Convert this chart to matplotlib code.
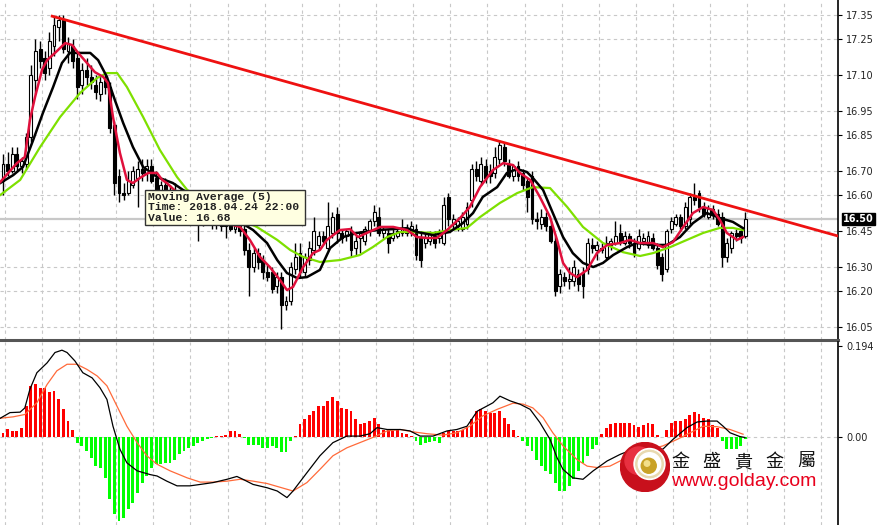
import numpy as np
import matplotlib.pyplot as plt
from matplotlib.patches import Rectangle, Circle

# ---------------- DATA ----------------
opens = [16.66, 16.73, 16.70, 16.77, 16.72, 16.73, 16.84, 17.08, 17.21, 17.17,
         17.13, 17.22, 17.30, 17.33, 17.20, 17.22, 17.17, 17.06, 17.12, 17.09,
         17.06, 17.02, 17.08, 17.05, 16.89, 16.68, 16.61, 16.61, 16.64, 16.67,
         16.71, 16.69, 16.72, 16.67, 16.62, 16.64, 16.60, 16.62, 16.57, 16.58,
         16.54, 16.56, 16.51, 16.50, 16.53, 16.50, 16.48, 16.49, 16.47, 16.48,
         16.46, 16.47, 16.46, 16.37, 16.30, 16.36, 16.33, 16.28, 16.28, 16.22,
         16.26, 16.14, 16.16, 16.29, 16.36, 16.28, 16.33, 16.37, 16.39, 16.43,
         16.38, 16.44, 16.52, 16.44, 16.43, 16.45, 16.38, 16.42, 16.41, 16.45,
         16.49, 16.51, 16.44, 16.44, 16.42, 16.43, 16.44, 16.46, 16.44, 16.46,
         16.42, 16.40, 16.41, 16.43, 16.42, 16.40, 16.59, 16.48, 16.47, 16.46,
         16.48, 16.58, 16.71, 16.66, 16.72, 16.70, 16.69, 16.75, 16.80, 16.73,
         16.68, 16.72, 16.69, 16.66, 16.68, 16.50, 16.48, 16.51, 16.47, 16.41,
         16.22, 16.26, 16.24, 16.24, 16.27, 16.28, 16.29, 16.39, 16.37, 16.38,
         16.34, 16.39, 16.40, 16.44, 16.40, 16.43, 16.40, 16.38, 16.41, 16.39,
         16.42, 16.38, 16.34, 16.29, 16.46, 16.48, 16.51, 16.47, 16.50, 16.59,
         16.61, 16.55, 16.51, 16.54, 16.52, 16.51, 16.34, 16.38, 16.44, 16.45,
         16.43]
highs = [16.77, 16.78, 16.80, 16.80, 16.76, 16.86, 17.14, 17.25, 17.24, 17.20,
         17.28, 17.34, 17.35, 17.35, 17.26, 17.25, 17.19, 17.15, 17.17, 17.14,
         17.10, 17.10, 17.10, 17.07, 16.91, 16.71, 16.65, 16.70, 16.72, 16.74,
         16.75, 16.75, 16.75, 16.70, 16.66, 16.67, 16.64, 16.65, 16.61, 16.60,
         16.58, 16.58, 16.55, 16.55, 16.56, 16.53, 16.51, 16.51, 16.50, 16.50,
         16.49, 16.49, 16.48, 16.40, 16.38, 16.38, 16.35, 16.31, 16.30, 16.28,
         16.28, 16.18, 16.32, 16.40, 16.40, 16.36, 16.41, 16.51, 16.45, 16.45,
         16.57, 16.53, 16.55, 16.46, 16.46, 16.47, 16.43, 16.45, 16.47, 16.50,
         16.56, 16.55, 16.47, 16.46, 16.46, 16.46, 16.50, 16.48, 16.49, 16.48,
         16.45, 16.44, 16.45, 16.45, 16.46, 16.59, 16.61, 16.52, 16.51, 16.53,
         16.57, 16.73, 16.74, 16.76, 16.75, 16.73, 16.80, 16.83, 16.82, 16.75,
         16.73, 16.74, 16.71, 16.67, 16.70, 16.53, 16.54, 16.53, 16.49, 16.43,
         16.29, 16.28, 16.30, 16.33, 16.29, 16.30, 16.42, 16.42, 16.41, 16.40,
         16.43, 16.42, 16.49, 16.48, 16.45, 16.44, 16.42, 16.46, 16.44, 16.45,
         16.44, 16.40, 16.36, 16.46, 16.51, 16.52, 16.52, 16.57, 16.61, 16.65,
         16.62, 16.57, 16.56, 16.56, 16.54, 16.53, 16.42, 16.45, 16.46, 16.46,
         16.53]
lows = [16.60, 16.68, 16.69, 16.70, 16.69, 16.71, 16.82, 17.02, 17.13, 17.08,
        17.10, 17.18, 17.24, 17.19, 17.15, 17.13, 17.00, 17.02, 17.06, 17.04,
        17.00, 16.99, 17.02, 16.86, 16.60, 16.57, 16.58, 16.60, 16.63, 16.55,
        16.66, 16.66, 16.65, 16.60, 16.58, 16.59, 16.56, 16.56, 16.53, 16.52,
        16.50, 16.49, 16.41, 16.47, 16.48, 16.46, 16.46, 16.45, 16.42, 16.45,
        16.44, 16.43, 16.35, 16.18, 16.28, 16.29, 16.25, 16.24, 16.19, 16.19,
        16.04, 16.12, 16.14, 16.27, 16.26, 16.26, 16.31, 16.35, 16.37, 16.40,
        16.37, 16.42, 16.40, 16.40, 16.41, 16.34, 16.35, 16.36, 16.39, 16.43,
        16.47, 16.43, 16.42, 16.36, 16.41, 16.42, 16.43, 16.43, 16.43, 16.33,
        16.30, 16.38, 16.39, 16.38, 16.40, 16.39, 16.47, 16.46, 16.45, 16.45,
        16.46, 16.55, 16.66, 16.64, 16.65, 16.65, 16.67, 16.73, 16.72, 16.67,
        16.66, 16.66, 16.62, 16.53, 16.48, 16.46, 16.46, 16.45, 16.40, 16.18,
        16.19, 16.22, 16.21, 16.22, 16.20, 16.17, 16.27, 16.36, 16.33, 16.36,
        16.33, 16.37, 16.39, 16.39, 16.39, 16.38, 16.34, 16.37, 16.39, 16.38,
        16.37, 16.29, 16.24, 16.28, 16.44, 16.47, 16.46, 16.46, 16.48, 16.56,
        16.53, 16.51, 16.50, 16.50, 16.47, 16.30, 16.32, 16.36, 16.41, 16.40,
        16.42]
closes = [16.73, 16.70, 16.77, 16.72, 16.74, 16.84, 17.10, 17.20, 17.16, 17.11,
          17.24, 17.31, 17.33, 17.21, 17.23, 17.16, 17.05, 17.12, 17.09, 17.07,
          17.03, 17.07, 17.05, 16.88, 16.65, 16.61, 16.60, 16.66, 16.70, 16.71,
          16.69, 16.72, 16.66, 16.62, 16.64, 16.60, 16.62, 16.57, 16.58, 16.54,
          16.56, 16.51, 16.50, 16.53, 16.50, 16.48, 16.49, 16.47, 16.48, 16.46,
          16.47, 16.45, 16.37, 16.30, 16.36, 16.32, 16.28, 16.26, 16.21, 16.26,
          16.14, 16.16, 16.30, 16.34, 16.28, 16.34, 16.38, 16.45, 16.43, 16.41,
          16.47, 16.51, 16.44, 16.42, 16.45, 16.37, 16.41, 16.44, 16.46, 16.49,
          16.53, 16.44, 16.46, 16.40, 16.44, 16.45, 16.46, 16.44, 16.47, 16.35,
          16.33, 16.42, 16.44, 16.40, 16.44, 16.56, 16.50, 16.50, 16.49, 16.51,
          16.55, 16.71, 16.68, 16.73, 16.67, 16.68, 16.76, 16.81, 16.74, 16.68,
          16.72, 16.68, 16.64, 16.59, 16.50, 16.49, 16.51, 16.47, 16.41, 16.20,
          16.27, 16.24, 16.25, 16.30, 16.23, 16.22, 16.40, 16.38, 16.39, 16.37,
          16.40, 16.41, 16.43, 16.41, 16.43, 16.40, 16.36, 16.43, 16.42, 16.43,
          16.38, 16.31, 16.27, 16.45, 16.49, 16.51, 16.47, 16.55, 16.59, 16.58,
          16.55, 16.52, 16.54, 16.52, 16.48, 16.34, 16.40, 16.44, 16.43, 16.42,
          16.50]

# moving averages (bar index, price)
ma5_x = [-0.6, 3.0, 4.7, 5.8, 6.9, 8.4, 9.5, 11.2, 13.4, 14.9, 16.2, 18.1, 19.8, 21.6,
         22.6, 23.7, 25.2, 26.7, 28.0, 29.5, 31.3, 33.2, 34.3, 35.3, 39.2, 43.5, 47.2,
         51.1, 53.2, 55.4, 57.5, 59.7, 61.2, 62.5, 64.7, 66.8, 68.3, 69.8, 72.6, 74.8,
         76.5, 78.4, 81.3, 84.1, 87.1, 89.2, 91.4, 93.5, 95.7, 98.5, 100.6, 102.8,
         105.6, 107.8, 109.9, 111.4, 113.6, 115.7, 117.9, 119.4, 120.7, 122.2, 123.7,
         125.9, 128.0, 130.2, 133.0, 135.1, 137.3, 140.1, 142.2, 144.4, 146.6, 148.7,
         150.9, 153.0, 154.5, 156.0, 158.2, 159.5]
ma5_y = [16.654, 16.733, 16.758, 16.913, 17.008, 17.121, 17.162, 17.192, 17.233, 17.225,
         17.192, 17.150, 17.112, 17.092, 17.067, 16.925, 16.775, 16.663, 16.650, 16.671,
         16.692, 16.692, 16.663, 16.650, 16.580, 16.520, 16.488, 16.467, 16.413, 16.342,
         16.300, 16.246, 16.204, 16.217, 16.300, 16.358, 16.371, 16.413, 16.454, 16.458,
         16.425, 16.442, 16.467, 16.467, 16.454, 16.425, 16.421, 16.421, 16.454, 16.504,
         16.550, 16.633, 16.704, 16.733, 16.725, 16.692, 16.663, 16.592, 16.508, 16.413,
         16.317, 16.275, 16.258, 16.288, 16.358, 16.392, 16.400, 16.413, 16.400, 16.400,
         16.383, 16.404, 16.467, 16.525, 16.550, 16.538, 16.496, 16.442, 16.413, 16.425]

ma10_x = [-0.6, 2.2, 4.3, 6.5, 8.6, 10.8, 12.7, 14.4, 16.6, 18.8, 20.5, 22.4, 24.1, 25.9,
          28.0, 30.2, 33.2, 36.6, 38.8, 44.6, 50.4, 53.9, 56.9, 59.1, 61.2, 63.4, 65.5,
          68.3, 70.5, 73.3, 76.3, 80.6, 84.1, 87.1, 89.2, 92.7, 96.3, 99.1, 101.3, 103.4,
          106.5, 108.6, 110.8, 112.9, 114.2, 116.4, 118.5, 120.7, 122.8, 125.0, 127.2,
          129.3, 131.5, 134.5, 136.6, 140.1, 143.1, 145.9, 148.7, 151.7, 154.5, 157.3, 159.5]
ma10_y = [16.650, 16.683, 16.717, 16.829, 16.942, 17.050, 17.150, 17.192, 17.192, 17.192,
          17.162, 17.092, 16.996, 16.900, 16.800, 16.717, 16.675, 16.650, 16.621, 16.558,
          16.496, 16.454, 16.400, 16.329, 16.275, 16.254, 16.258, 16.288, 16.379, 16.425,
          16.442, 16.454, 16.458, 16.462, 16.446, 16.433, 16.446, 16.483, 16.525, 16.592,
          16.633, 16.692, 16.708, 16.696, 16.671, 16.621, 16.525, 16.425, 16.358, 16.317,
          16.300, 16.317, 16.350, 16.383, 16.400, 16.392, 16.392, 16.425, 16.483, 16.525,
          16.504, 16.488, 16.462]

ma20_x = [-0.6, 3.7, 8.0, 12.3, 16.6, 20.3, 22.4, 24.6, 26.7, 30.2, 33.8, 37.5, 39.7,
          42.5, 48.9, 54.7, 59.1, 61.9, 64.7, 68.3, 72.6, 76.9, 79.7, 82.8, 85.6, 88.4,
          92.7, 96.3, 100.0, 102.8, 107.1, 110.8, 114.2, 117.9, 121.6, 125.0, 129.3,
          133.6, 137.3, 140.1, 143.8, 147.4, 150.9, 154.5, 157.3, 159.5]
ma20_y = [16.600, 16.663, 16.800, 16.925, 17.025, 17.088, 17.108, 17.108, 17.050, 16.925,
          16.788, 16.675, 16.621, 16.592, 16.517, 16.467, 16.413, 16.371, 16.342, 16.321,
          16.329, 16.350, 16.383, 16.425, 16.446, 16.446, 16.442, 16.454, 16.463, 16.508,
          16.567, 16.608, 16.633, 16.629, 16.550, 16.467, 16.400, 16.362, 16.346, 16.358,
          16.383, 16.413, 16.442, 16.463, 16.463, 16.454]

# trend line (start / end)
trend_x = [10.6, 180.0]
trend_y = [17.345, 16.429]

last_price = 16.50
price_ticks = [17.35, 17.25, 17.10, 16.95, 16.85, 16.70, 16.60, 16.45, 16.30, 16.20, 16.05]

# MACD
hist = [0.008, 0.018, 0.013, 0.013, 0.020, 0.066, 0.109, 0.112, 0.105, 0.105,
        0.096, 0.098, 0.080, 0.060, 0.034, 0.015, -0.012, -0.019, -0.030, -0.044,
        -0.062, -0.065, -0.087, -0.133, -0.165, -0.179, -0.172, -0.154, -0.140, -0.119,
        -0.097, -0.083, -0.065, -0.058, -0.058, -0.055, -0.055, -0.048, -0.037, -0.030,
        -0.023, -0.019, -0.013, -0.009, -0.005, -0.002, 0.002, 0.002, 0.004, 0.013,
        0.013, 0.006, -0.003, -0.016, -0.016, -0.018, -0.023, -0.023, -0.019, -0.023,
        -0.032, -0.032, -0.009, 0.002, 0.027, 0.038, 0.047, 0.055, 0.066, 0.066,
        0.077, 0.086, 0.077, 0.062, 0.059, 0.055, 0.038, 0.027, 0.030, 0.034,
        0.041, 0.027, 0.016, 0.016, 0.013, 0.016, 0.009, 0.006, 0.002, -0.009,
        -0.016, -0.012, -0.011, -0.009, -0.012, 0.009, 0.013, 0.013, 0.013, 0.016,
        0.022, 0.038, 0.055, 0.059, 0.055, 0.052, 0.052, 0.055, 0.041, 0.027,
        0.016, 0.002, -0.009, -0.019, -0.030, -0.048, -0.062, -0.072, -0.079, -0.097,
        -0.115, -0.115, -0.104, -0.090, -0.072, -0.055, -0.041, -0.026, -0.016, 0.006,
        0.020, 0.027, 0.030, 0.030, 0.030, 0.030, 0.025, 0.022, 0.025, 0.029,
        0.027, 0.004, -0.001, 0.016, 0.030, 0.034, 0.034, 0.038, 0.046, 0.053,
        0.050, 0.040, 0.038, 0.025, 0.020, -0.009, -0.026, -0.026, -0.026, -0.019,
        -0.005]

macd_x = [-0.6, 1.5, 3.7, 4.7, 5.8, 7.3, 9.5, 11.2, 12.7, 13.8, 15.5, 17.2, 19.2, 20.9,
          22.4, 23.7, 25.2, 26.7, 28.9, 31.7, 33.2, 35.3, 37.5, 40.3, 42.5, 45.3, 48.3,
          50.4, 51.7, 53.9, 56.9, 59.1, 61.2, 62.5, 65.5, 68.3, 71.1, 74.1, 76.9, 79.1,
          80.6, 82.8, 85.6, 87.7, 89.9, 92.7, 95.7, 97.8, 100.0, 102.2, 104.3, 105.6,
          107.1, 109.3, 111.4, 113.6, 115.7, 117.9, 119.4, 120.7, 122.8, 125.0, 127.2,
          130.2, 133.0, 135.8, 138.8, 140.9, 142.2, 144.4, 147.4, 149.6, 151.7, 153.9,
          155.2, 156.7, 158.8, 159.9]
macd_y = [0.040, 0.052, 0.053, 0.062, 0.102, 0.137, 0.158, 0.180, 0.185, 0.180,
          0.162, 0.137, 0.126, 0.105, 0.080, 0.023, -0.026, -0.055, -0.072, -0.080,
          -0.083, -0.094, -0.104, -0.104, -0.101, -0.097, -0.090, -0.084, -0.090, -0.101,
          -0.108, -0.115, -0.129, -0.115, -0.076, -0.040, -0.012, 0.002, 0.002, 0.007,
          0.020, 0.016, 0.016, 0.013, 0.002, 0.002, 0.013, 0.016, 0.023, 0.055,
          0.066, 0.073, 0.087, 0.077, 0.070, 0.059, 0.031, -0.005, -0.044, -0.069,
          -0.087, -0.090, -0.072, -0.051, -0.037, -0.026, -0.019, -0.023, -0.026, -0.005,
          0.020, 0.032, 0.034, 0.034, 0.023, 0.009, 0.001, -0.001]

signal_x = [-0.6, 2.2, 4.7, 7.3, 9.5, 11.6, 13.8, 15.9, 18.1, 20.3, 22.4, 24.6, 26.7,
            28.9, 31.0, 33.2, 36.0, 39.7, 42.5, 45.3, 48.3, 51.1, 53.9, 56.9, 59.7, 62.5,
            65.5, 68.3, 71.1, 74.1, 76.9, 79.7, 82.8, 85.6, 88.4, 91.4, 94.8, 97.8, 100.6,
            103.4, 106.5, 109.9, 112.1, 114.2, 116.4, 118.5, 120.7, 123.7, 125.9, 128.0,
            130.8, 133.6, 136.6, 139.4, 142.2, 145.3, 148.1, 150.9, 153.9, 156.7, 159.5]
signal_y = [0.040, 0.043, 0.048, 0.073, 0.112, 0.141, 0.155, 0.155, 0.144, 0.130,
            0.109, 0.065, 0.023, -0.012, -0.040, -0.058, -0.072, -0.087, -0.096, -0.096,
            -0.094, -0.090, -0.094, -0.099, -0.107, -0.115, -0.097, -0.069, -0.040, -0.023,
            -0.012, -0.001, 0.013, 0.016, 0.011, 0.007, 0.004, 0.009, 0.023, 0.045,
            0.059, 0.072, 0.070, 0.062, 0.041, 0.009, -0.019, -0.048, -0.062, -0.065,
            -0.062, -0.048, -0.037, -0.026, -0.019, -0.005, 0.009, 0.023, 0.022, 0.016,
            0.006]

brand_chars = ['金', '盛', '貴', '金', '屬']
brand_url = 'www.golday.com'

# ---------------- PLOT ----------------
W, H = 879, 525
fig = plt.figure(figsize=(W / 100, H / 100), dpi=100)
fig.patch.set_facecolor('white')

ax1 = fig.add_axes([0, 185 / H, 838 / W, 340 / H])
ax2 = fig.add_axes([0, 0, 838 / W, 183 / H])

idx = np.arange(len(closes))
o = np.array(opens); c = np.array(closes)
hi = np.array(highs); lo = np.array(lows)
up = c >= o

grid_kw = dict(color='#c8c8c8', linestyle=(0, (3, 3)), linewidth=0.8, zorder=0)
vgrid = np.arange(0.4, 181, 8)

# top panel: grid, candles, averages, trend line
for a in (ax1, ax2):
    for g in vgrid:
        a.axvline(g, **grid_kw)
for t in price_ticks:
    ax1.axhline(t, **grid_kw)
ax1.axhline(last_price, color='#c8c8c8', linewidth=1.6, zorder=1)

ax1.vlines(idx, lo, hi, color='black', linewidth=1.0, zorder=3)
body = np.maximum(np.abs(c - o), 0.004)
ax1.bar(idx[up], body[up], bottom=o[up], width=0.62, color='white',
        edgecolor='black', linewidth=0.8, zorder=4)
ax1.bar(idx[~up], body[~up], bottom=c[~up], width=0.62, color='black',
        edgecolor='black', linewidth=0.8, zorder=4)

ax1.plot(ma20_x, ma20_y, color='#7ee000', linewidth=1.6, zorder=5)
ax1.plot(ma10_x, ma10_y, color='black', linewidth=1.8, zorder=6)
ax1.plot(ma5_x, ma5_y, color='#e0103c', linewidth=1.8, zorder=7)
ax1.plot(trend_x, trend_y, color='#ee1111', linewidth=2.0, zorder=8)

ax1.set_xlim(-0.65, 179.96)
ax1.set_ylim(15.996, 17.4125)

# tooltip
ax1.add_patch(Rectangle((145 / 838, 1 - 225 / 340), 160 / 838, 35 / 340,
                        transform=ax1.transAxes, facecolor='#ffffe1',
                        edgecolor='#333333', linewidth=1.0, zorder=20))
tip_lines = ['Moving Average (5)', 'Time: 2018.04.24 22:00', 'Value: 16.68']
for k, s in enumerate(tip_lines):
    ax1.text(148 / 838, 1 - (197 + 10.5 * k) / 340, s, transform=ax1.transAxes,
             fontsize=8.2, family='Liberation Mono', fontweight='bold',
             va='center', ha='left', color='#222222', zorder=21)

# MACD panel
hcol = ['#ff0000' if v >= 0 else '#00ff00' for v in hist]
ax2.bar(np.arange(len(hist)), hist, width=0.62, color=hcol, zorder=2)
ax2.axhline(0, **grid_kw)
ax2.plot(signal_x, signal_y, color='#ff6a3a', linewidth=0.9, zorder=4)
ax2.plot(macd_x, macd_y, color='black', linewidth=0.9, zorder=5)
ax2.set_xlim(-0.65, 179.96)
ax2.set_ylim(-0.1874, 0.2024)

# axes styling
for a in (ax1, ax2):
    a.set_facecolor('none')
    a.set_xticks([])
    a.yaxis.tick_right()
    a.tick_params(axis='y', length=3, width=0.8, pad=3, labelsize=7,
                  labelcolor='#222222')
    for s in ('left', 'top'):
        a.spines[s].set_visible(False)
    a.spines['right'].set_linewidth(1.2)
ax1.spines['bottom'].set_color('#555555')
ax1.spines['bottom'].set_linewidth(2.2)
ax2.spines['bottom'].set_visible(False)

ax1.set_yticks(price_ticks)
ax1.set_yticklabels(['%.2f' % t for t in price_ticks])
ax2.set_yticks([0.194, 0.0])
ax2.set_yticklabels(['0.194', '0.00'])

# current price box
ax1.text(1.006, (last_price - 15.996) / (17.4125 - 15.996), '%.2f' % last_price,
         transform=ax1.transAxes, ha='left', va='center', fontsize=7,
         fontweight='bold', color='white', zorder=30, clip_on=False,
         bbox=dict(boxstyle='square,pad=0.15', facecolor='black', edgecolor='black'))

# watermark logo
lax = fig.add_axes([620 / W, 1 - 492 / H, 50 / W, 50 / H])
lax.set_xlim(-1, 1); lax.set_ylim(-1, 1); lax.set_aspect('equal'); lax.axis('off')
lax.add_patch(Circle((0, 0), 0.98, color='#c8101c'))
lax.add_patch(Circle((-0.25, 0.25), 0.55, color='#e83040'))
lax.add_patch(Circle((0.18, 0.12), 0.62, color='white'))
lax.add_patch(Circle((0.18, 0.12), 0.55, color='#e8d9b0'))
lax.add_patch(Circle((0.18, 0.12), 0.45, color='white'))
lax.add_patch(Circle((0.15, 0.05), 0.30, color='#c9a227'))
lax.add_patch(Circle((0.08, 0.14), 0.11, color='#f3df8a'))

for k, ch in enumerate(brand_chars):
    fig.text((680 + 31.5 * k) / W, 1 - 462 / H, ch, fontsize=13,
             family=['Noto Sans CJK TC', 'DejaVu Sans'], color='#111111',
             ha='center', va='center')
fig.text(671 / W, 1 - 481 / H, brand_url, fontsize=14,
         family='Liberation Sans', color='#e8001c', ha='left', va='center')

fig.savefig('out.png', dpi=100, facecolor='white')
